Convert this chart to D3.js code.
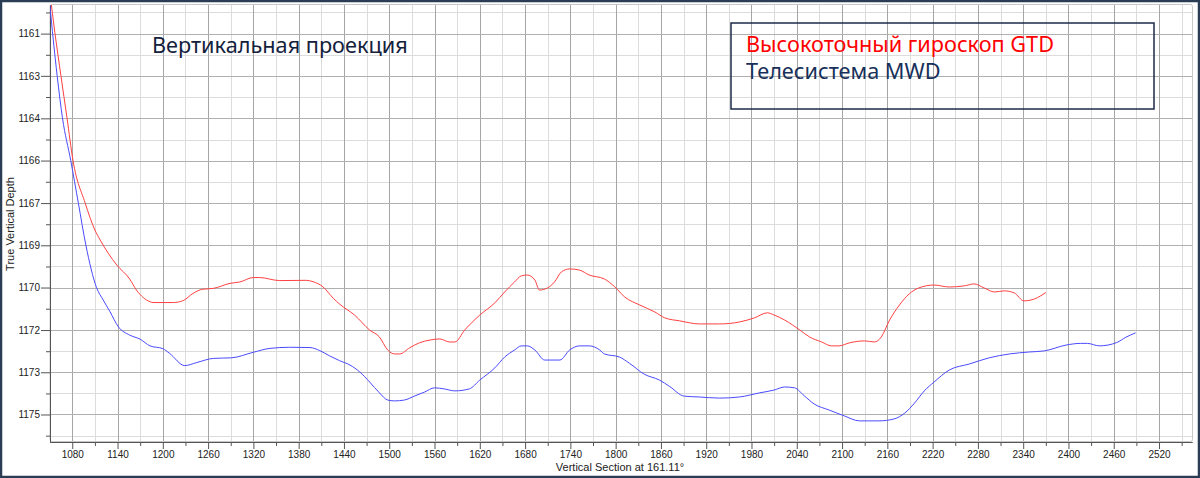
<!DOCTYPE html>
<html>
<head>
<meta charset="utf-8">
<script src="https://cdn.jsdelivr.net/npm/d3@7"></script>
<style>
  body { margin: 0; background: #fff; }
  svg { display: block; }
  .tick text { font-family: "Liberation Sans", Arial, sans-serif; font-size: 10px; fill: #222; }
  .axis path, .axis line { stroke: #555; }
</style>
</head>
<body>
<div id="chart"></div>
<script>
// Vertical projection: true vertical depth vs vertical section, two surveys
const xTicks = [1080, 1140, 1200, 1260, 1320, 1380, 1440, 1500, 1560, 1620, 1680, 1740, 1800,
  1860, 1920, 1980, 2040, 2100, 2160, 2220, 2280, 2340, 2400, 2460, 2520];
// depth ticks are 1.524 m apart, labelled rounded to whole metres
const yTicks = [1161.0, 1162.52, 1164.05, 1165.57, 1167.10, 1168.62, 1170.14, 1171.67, 1173.19, 1174.71];

const titleText = 'Вертикальная проекция';
const seriesNames = ['Высокоточный гироскоп GTD', 'Телесистема MWD'];
const xLabel = 'Vertical Section at 161.11°';
const yLabel = 'True Vertical Depth';

// GTD gyro survey [vertical section, TVD]
const gtd = [
  [1052, 1159.9], [1057, 1160.97], [1065, 1162.52], [1073, 1164.03], [1081, 1165.57],
  [1097, 1167.09], [1110, 1168.07], [1117, 1168.43], [1139, 1169.33], [1156, 1169.83],
  [1165, 1170.23], [1183, 1170.65], [1187, 1170.68], [1214, 1170.68], [1227, 1170.61],
  [1240, 1170.35], [1253, 1170.20], [1267, 1170.17], [1289, 1169.99], [1302, 1169.94],
  [1320, 1169.78], [1328, 1169.78], [1355, 1169.89], [1390, 1169.88], [1399, 1169.93],
  [1412, 1170.11], [1426, 1170.53], [1434, 1170.73], [1454, 1171.13], [1474, 1171.67],
  [1487, 1171.92], [1498, 1172.39], [1507, 1172.53], [1514, 1172.53], [1527, 1172.31],
  [1540, 1172.13], [1554, 1172.03], [1567, 1171.99], [1580, 1172.10], [1587, 1172.10],
  [1600, 1171.67], [1620, 1171.13], [1640, 1170.69], [1653, 1170.30], [1666, 1169.94],
  [1675, 1169.72], [1683, 1169.69], [1693, 1169.87], [1699, 1170.23], [1710, 1170.15],
  [1719, 1169.94], [1728, 1169.58], [1739, 1169.47], [1752, 1169.51], [1765, 1169.69],
  [1785, 1169.83], [1799, 1170.12], [1812, 1170.48], [1832, 1170.77], [1852, 1171.02],
  [1865, 1171.23], [1885, 1171.34], [1911, 1171.45], [1938, 1171.45], [1964, 1171.38],
  [1984, 1171.23], [2001, 1171.05], [2010, 1171.13], [2024, 1171.31], [2044, 1171.67],
  [2057, 1171.92], [2073, 1172.10], [2086, 1172.24], [2096, 1172.24], [2110, 1172.13],
  [2130, 1172.06], [2143, 1172.10], [2152, 1171.92], [2163, 1171.31], [2176, 1170.77],
  [2189, 1170.37], [2202, 1170.15], [2222, 1170.05], [2242, 1170.12], [2262, 1170.08],
  [2275, 1170.01], [2288, 1170.15], [2302, 1170.30], [2315, 1170.26], [2328, 1170.33],
  [2341, 1170.62], [2355, 1170.55], [2370, 1170.32]
];

// MWD telemetry survey [vertical section, TVD]
const mwd = [
  [1050, 1159.9], [1060, 1162.52], [1067, 1164.03], [1078, 1165.57], [1088, 1167.09],
  [1098, 1168.61], [1112, 1170.13], [1121, 1170.59],
  [1130, 1171.01], [1141, 1171.55], [1156, 1171.85], [1170, 1172.00], [1183, 1172.24],
  [1200, 1172.34], [1209, 1172.51], [1229, 1172.95], [1245, 1172.84], [1267, 1172.69],
  [1291, 1172.67], [1320, 1172.47], [1342, 1172.33], [1368, 1172.29], [1395, 1172.30],
  [1408, 1172.41], [1421, 1172.60], [1434, 1172.77], [1448, 1172.93], [1461, 1173.18],
  [1474, 1173.54], [1487, 1173.93], [1498, 1174.19], [1507, 1174.22], [1520, 1174.19],
  [1534, 1174.04], [1547, 1173.90], [1560, 1173.75], [1573, 1173.79], [1587, 1173.86],
  [1606, 1173.79], [1620, 1173.47], [1640, 1173.03], [1653, 1172.64], [1666, 1172.39],
  [1675, 1172.24], [1683, 1172.24], [1693, 1172.39], [1706, 1172.75], [1726, 1172.75],
  [1739, 1172.39], [1752, 1172.24], [1765, 1172.24], [1779, 1172.39], [1785, 1172.53],
  [1805, 1172.64], [1818, 1172.86], [1838, 1173.26], [1858, 1173.47], [1871, 1173.69],
  [1891, 1174.05], [1911, 1174.08], [1938, 1174.12], [1964, 1174.08], [1991, 1173.93],
  [2010, 1173.83], [2024, 1173.72], [2037, 1173.75], [2050, 1174.04], [2063, 1174.33],
  [2083, 1174.55], [2103, 1174.76], [2123, 1174.94], [2149, 1174.94], [2169, 1174.87],
  [2183, 1174.66], [2196, 1174.30], [2209, 1173.86], [2222, 1173.54], [2242, 1173.11],
  [2269, 1172.89], [2295, 1172.67], [2322, 1172.53], [2348, 1172.46], [2368, 1172.42],
  [2397, 1172.21], [2416, 1172.15], [2425, 1172.15], [2441, 1172.24], [2464, 1172.12],
  [2476, 1171.93], [2489, 1171.77]
];

const W = 1200, H = 478;
const P = { left: 50, right: 1192, top: 5, bottom: 442 };

const svg = d3.select('#chart').append('svg').attr('width', W).attr('height', H);

// outer frame
svg.append('rect').attr('x', 1).attr('y', 1).attr('width', W - 2).attr('height', H - 2)
  .attr('fill', '#fff').attr('stroke', '#2b3d55').attr('stroke-width', 2.5);

const x = d3.scaleLinear().domain([1050.5, 2563.7]).range([P.left, P.right]);
const y = d3.scaleLinear().domain([1159.97, 1175.70]).range([P.top, P.bottom]);

const xMinor = xTicks.map(v => v + 30).concat([1050]).filter(v => x(v) <= P.right && x(v) > P.left);
const yMinor = yTicks.map(v => v + 0.762).concat([yTicks[0] - 0.762]).filter(v => y(v) < P.bottom && y(v) > P.top);

// grid
const grid = svg.append('g').attr('shape-rendering', 'crispEdges');
grid.selectAll('line.vmin').data(xMinor).join('line').attr('class', 'vmin')
  .attr('x1', d => Math.round(x(d)) + 0.5).attr('x2', d => Math.round(x(d)) + 0.5)
  .attr('y1', P.top).attr('y2', P.bottom).attr('stroke', '#dcdcdc');
grid.selectAll('line.hmin').data(yMinor).join('line').attr('class', 'hmin')
  .attr('y1', d => Math.round(y(d)) + 0.5).attr('y2', d => Math.round(y(d)) + 0.5)
  .attr('x1', P.left).attr('x2', P.right).attr('stroke', '#dcdcdc');
grid.selectAll('line.vmaj').data(xTicks).join('line').attr('class', 'vmaj')
  .attr('x1', d => Math.round(x(d)) + 0.5).attr('x2', d => Math.round(x(d)) + 0.5)
  .attr('y1', P.top).attr('y2', P.bottom).attr('stroke', '#a6a6a6');
grid.selectAll('line.hmaj').data(yTicks).join('line').attr('class', 'hmaj')
  .attr('y1', d => Math.round(y(d)) + 0.5).attr('y2', d => Math.round(y(d)) + 0.5)
  .attr('x1', P.left).attr('x2', P.right).attr('stroke', '#b0b0b0');

// plot panel border
svg.append('rect').attr('x', P.left).attr('y', P.top - 0.5)
  .attr('width', P.right - P.left + 0.5).attr('height', P.bottom - P.top)
  .attr('rx', 2).attr('fill', 'none').attr('stroke', '#c8c8c8');

// axes
const fmt0 = d3.format('.0f');
svg.append('g').attr('class', 'axis').attr('transform', `translate(0,${P.bottom})`)
  .call(d3.axisBottom(x).tickValues(xMinor).tickSize(4).tickFormat('').tickSizeOuter(0));
svg.append('g').attr('class', 'axis').attr('transform', `translate(0,${P.bottom})`)
  .call(d3.axisBottom(x).tickValues(xTicks).tickSize(7).tickPadding(2).tickFormat(fmt0).tickSizeOuter(0));
svg.append('g').attr('class', 'axis').attr('transform', `translate(${P.left},0)`)
  .call(d3.axisLeft(y).tickValues(yMinor).tickSize(4).tickFormat('').tickSizeOuter(0));
svg.append('g').attr('class', 'axis').attr('transform', `translate(${P.left},0)`)
  .call(d3.axisLeft(y).tickValues(yTicks).tickSize(9).tickPadding(1).tickFormat(fmt0).tickSizeOuter(0));

// axis titles
svg.append('text').attr('x', 620).attr('y', 471).attr('text-anchor', 'middle')
  .attr('font-family', 'Liberation Sans, Arial, sans-serif').attr('font-size', 11).attr('fill', '#222')
  .text(xLabel);
svg.append('text').attr('transform', 'translate(14,224) rotate(-90)').attr('text-anchor', 'middle')
  .attr('font-family', 'Liberation Sans, Arial, sans-serif').attr('font-size', 11).attr('fill', '#222')
  .text(yLabel);

// lines
svg.append('clipPath').attr('id', 'clip').append('rect')
  .attr('x', P.left).attr('y', P.top).attr('width', P.right - P.left).attr('height', P.bottom - P.top);
const line = d3.line().x(d => x(d[0])).y(d => y(d[1])).curve(d3.curveMonotoneX);
const lines = svg.append('g').attr('clip-path', 'url(#clip)');
lines.append('path').attr('d', line(mwd)).attr('fill', 'none').attr('stroke', '#4a4aff').attr('stroke-width', 1);
lines.append('path').attr('d', line(gtd)).attr('fill', 'none').attr('stroke', '#ff4040').attr('stroke-width', 1);

// title and legend box
const font = 'Noto Sans, DejaVu Sans, sans-serif';
svg.append('text').attr('x', 152).attr('y', 53).attr('font-family', font).attr('font-size', 21.7)
  .attr('fill', '#14213d').text(titleText);
svg.append('rect').attr('x', 731).attr('y', 23).attr('width', 423).attr('height', 86)
  .attr('fill', 'none').attr('stroke', '#1c2a48').attr('stroke-width', 1.5);
svg.append('text').attr('x', 746).attr('y', 52).attr('font-family', font).attr('font-size', 21.7)
  .attr('fill', '#ff0000').text(seriesNames[0]);
svg.append('text').attr('x', 746).attr('y', 79).attr('font-family', font).attr('font-size', 21.7)
  .attr('fill', '#17305a').text(seriesNames[1]);
</script>
</body>
</html>
